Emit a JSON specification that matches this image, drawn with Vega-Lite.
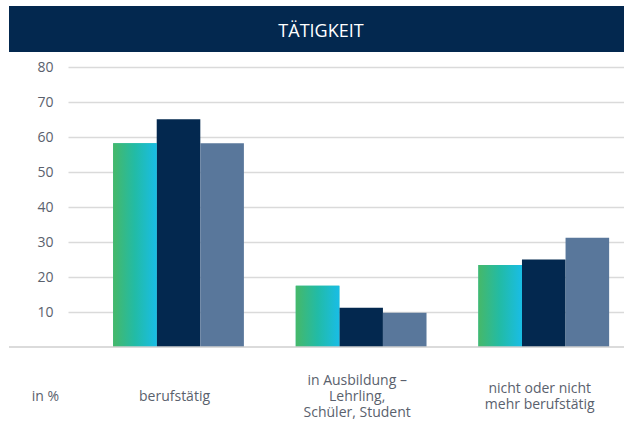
{
  "$schema": "https://vega.github.io/schema/vega-lite/v6.json",
  "padding": {"left": 8, "top": 6, "right": 0, "bottom": 0},
  "background": "white",
  "bounds": "flush",
  "spacing": 15,
  "config": {"font": "Open Sans", "view": {"stroke": null}},
  "vconcat": [
    {
      "width": 616,
      "height": 46,
      "view": {"fill": "#03284f", "stroke": null},
      "data": {"values": [{"Titel": "TÄTIGKEIT"}]},
      "mark": {"type": "text", "color": "white", "fontSize": 18, "font": "Open Sans", "baseline": "middle", "align": "center", "dx": 4, "dy": 3},
      "encoding": {"text": {"field": "Titel", "type": "nominal"}}
    },
    {
      "width": 616,
      "height": 280,
      "layer": [
        {
          "data": {
            "values": [
              {"Tätigkeit": "berufstätig", "Serie": "Serie 1", "Anteil": 58.2},
              {"Tätigkeit": "berufstätig", "Serie": "Serie 2", "Anteil": 65.1},
              {"Tätigkeit": "berufstätig", "Serie": "Serie 3", "Anteil": 58.2},
              {"Tätigkeit": "in Ausbildung – Lehrling, Schüler, Student", "Serie": "Serie 1", "Anteil": 17.5},
              {"Tätigkeit": "in Ausbildung – Lehrling, Schüler, Student", "Serie": "Serie 2", "Anteil": 11.2},
              {"Tätigkeit": "in Ausbildung – Lehrling, Schüler, Student", "Serie": "Serie 3", "Anteil": 9.8},
              {"Tätigkeit": "nicht oder nicht mehr berufstätig", "Serie": "Serie 1", "Anteil": 23.4},
              {"Tätigkeit": "nicht oder nicht mehr berufstätig", "Serie": "Serie 2", "Anteil": 25.0},
              {"Tätigkeit": "nicht oder nicht mehr berufstätig", "Serie": "Serie 3", "Anteil": 31.2}
            ]
          },
          "encoding": {
            "x": {
              "field": "Tätigkeit",
              "type": "nominal",
              "sort": null,
              "scale": {
                "domain": ["berufstätig", "in Ausbildung – Lehrling, Schüler, Student", "nicht oder nicht mehr berufstätig"],
                "range": [59, 616],
                "paddingInner": 0.284,
                "paddingOuter": 0.167,
                "align": 0.74
              },
              "axis": {
                "title": null,
                "domain": false,
                "ticks": false,
                "labelAngle": 0,
                "labelFontSize": 14,
                "labelColor": "#5a616d",
                "labelPadding": {
                  "condition": [
                    {"test": "datum.value === 'in Ausbildung – Lehrling, Schüler, Student'", "value": 33},
                    {"test": "datum.value === 'nicht oder nicht mehr berufstätig'", "value": 41}
                  ],
                  "value": 49
                },
                "labelBaseline": "middle",
                "labelLineHeight": 16,
                "labelOffset": -4,
                "labelLimit": 0,
                "labelOverlap": false,
                "labelExpr": "datum.value === 'in Ausbildung – Lehrling, Schüler, Student' ? ['in Ausbildung –', 'Lehrling,', 'Schüler, Student'] : datum.value === 'nicht oder nicht mehr berufstätig' ? ['nicht oder nicht', 'mehr berufstätig'] : datum.label"
              }
            },
            "xOffset": {
              "field": "Serie",
              "type": "nominal",
              "scale": {"domain": ["Serie 1", "Serie 2", "Serie 3"], "paddingInner": 0, "paddingOuter": 0}
            },
            "y": {
              "field": "Anteil",
              "type": "quantitative",
              "scale": {"domain": [0, 80], "nice": false},
              "axis": {
                "title": "in %",
                "titleAngle": 0,
                "titleX": -23,
                "titleY": 329,
                "titleAlign": "center",
                "titleBaseline": "middle",
                "titleFontSize": 14,
                "titleFontWeight": "normal",
                "titleColor": "#5a616d",
                "values": [10, 20, 30, 40, 50, 60, 70, 80],
                "tickCount": 20,
                "offset": -59,
                "labelPadding": 15,
                "labelFontSize": 14,
                "labelColor": "#5a616d",
                "labelOverlap": false,
                "ticks": false,
                "domain": false,
                "grid": true,
                "gridColor": "#dadada",
                "gridWidth": 1.5
              }
            }
          },
          "layer": [
            {
              "mark": {"type": "bar"},
              "encoding": {
                "color": {
                  "field": "Serie",
                  "type": "nominal",
                  "scale": {"domain": ["Serie 1", "Serie 2", "Serie 3"], "range": ["#22bba8", "#03284f", "#59779b"]},
                  "legend": null
                }
              }
            },
            {
              "transform": [{"filter": "datum.Serie === 'Serie 1'"}],
              "mark": {
                "type": "bar",
                "color": {
                  "gradient": "linear",
                  "x1": 0, "y1": 0, "x2": 1, "y2": 0,
                  "stops": [
                    {"offset": 0, "color": "#46b869"},
                    {"offset": 0.5, "color": "#22bba6"},
                    {"offset": 1, "color": "#19bde6"}
                  ]
                }
              }
            }
          ]
        },
        {
          "data": {"values": [{"Basis": 0}]},
          "mark": {"type": "rule", "color": "#cfcfcf", "strokeWidth": 1.5},
          "encoding": {"y": {"field": "Basis", "type": "quantitative", "title": "in %"}}
        }
      ]
    }
  ]
}
